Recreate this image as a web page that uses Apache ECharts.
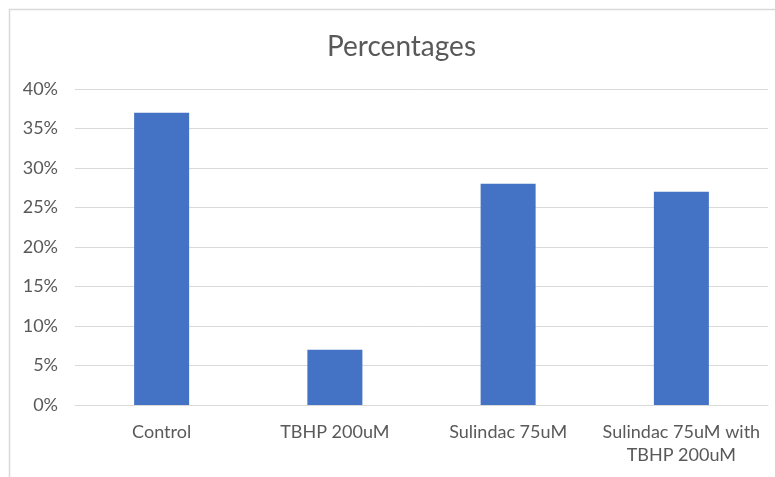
<!DOCTYPE html>
<html><head><meta charset="utf-8">
<script src="https://cdn.jsdelivr.net/npm/echarts@6/dist/echarts.min.js"></script>
<style>html,body{margin:0;padding:0;background:#fff}#c{width:775px;height:477px}</style>
</head><body><div id="c"></div>
<script>
const titleText = 'Percentages';
const categories = ['Control', 'TBHP 200uM', 'Sulindac 75uM', 'Sulindac 75uM with\nTBHP 200uM'];
const values = [37, 7, 28, 27];
const yTicks = [0, 5, 10, 15, 20, 25, 30, 35, 40];

const chart = echarts.init(document.getElementById('c'));
const font = 'Lato, Open Sans, sans-serif';
chart.setOption({
  animation: false,
  graphic: [{type: 'rect', shape: {x: 9.5, y: 9.5, width: 900, height: 600}, style: {fill: 'none', stroke: '#d9d9d9', lineWidth: 1.5}, silent: true}],
  title: {text: titleText, left: 322, top: 28, textStyle: {fontFamily: font, fontSize: 28, fontWeight: 'normal', color: '#595959'}},
  grid: {left: 75, right: 7, top: 89, bottom: 72},
  xAxis: {type: 'category', data: categories,
    axisLine: {lineStyle: {color: '#d9d9d9', width: 1}}, axisTick: {show: false},
    axisLabel: {color: '#595959', fontFamily: font, fontSize: 18, margin: 16, lineHeight: 23, interval: 0}},
  yAxis: {type: 'value', min: yTicks[0], max: yTicks[yTicks.length - 1], interval: 5,
    axisLine: {show: false}, axisTick: {show: false},
    splitLine: {lineStyle: {color: '#d9d9d9', width: 1}},
    axisLabel: {color: '#595959', fontFamily: font, fontSize: 18, margin: 17, formatter: v => v + '%'}},
  series: [{type: 'bar', data: values, barWidth: 55, itemStyle: {color: '#4472C4'}}]
});
</script></body></html>
